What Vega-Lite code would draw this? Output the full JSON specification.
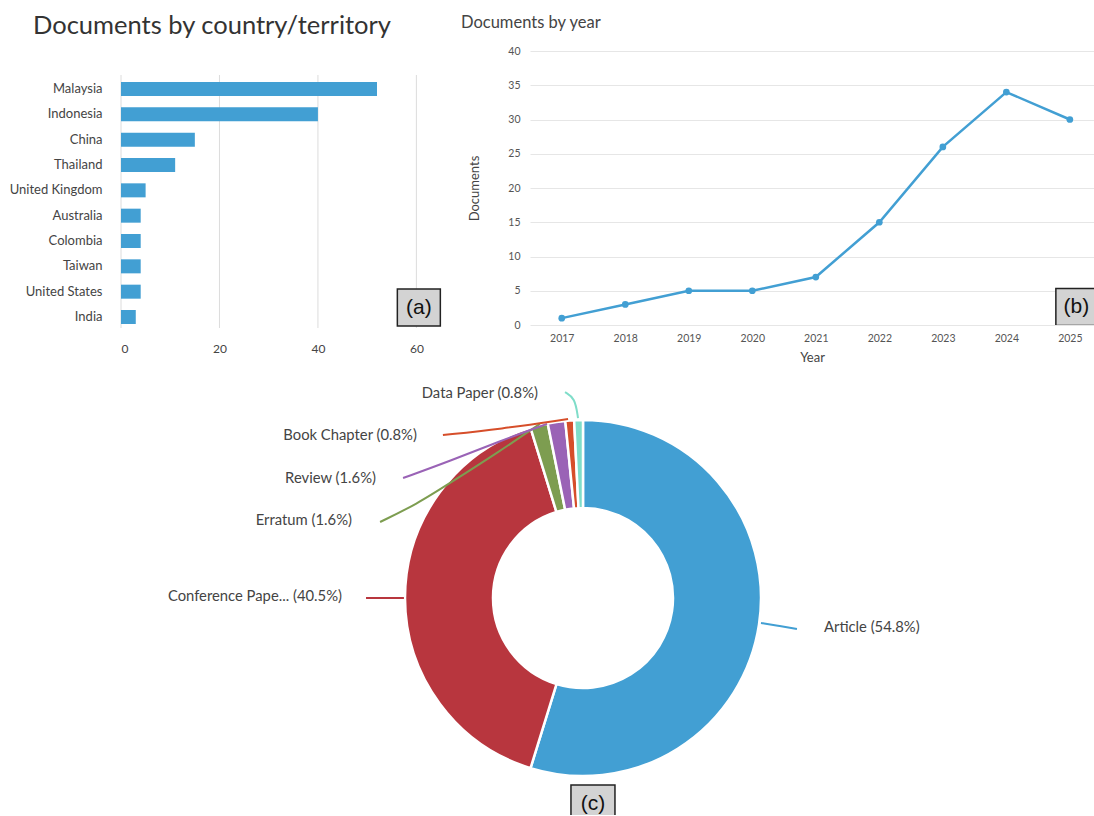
{
  "$schema": "https://vega.github.io/schema/vega-lite/v6.json",
  "padding": {"left": 9, "top": 14, "right": 0, "bottom": 0},
  "background": "white",
  "config": {
    "view": {"stroke": null},
    "font": "Lato",
    "axis": {"labelFont": "Lato", "titleFont": "Lato"},
    "title": {"font": "Lato"}
  },
  "datasets": {
    "countries": [
      {"country": "Malaysia", "documents": 52},
      {"country": "Indonesia", "documents": 40},
      {"country": "China", "documents": 15},
      {"country": "Thailand", "documents": 11},
      {"country": "United Kingdom", "documents": 5},
      {"country": "Australia", "documents": 4},
      {"country": "Colombia", "documents": 4},
      {"country": "Taiwan", "documents": 4},
      {"country": "United States", "documents": 4},
      {"country": "India", "documents": 3}
    ],
    "gridx": [{"g": 0}, {"g": 20}, {"g": 40}, {"g": 60}],
    "years": [
      {"year": 2017, "documents": 1},
      {"year": 2018, "documents": 3},
      {"year": 2019, "documents": 5},
      {"year": 2020, "documents": 5},
      {"year": 2021, "documents": 7},
      {"year": 2022, "documents": 15},
      {"year": 2023, "documents": 26},
      {"year": 2024, "documents": 34},
      {"year": 2025, "documents": 30}
    ],
    "types": [
      {"type": "Article", "count": 69, "rank": 1},
      {"type": "Conference Paper", "count": 51, "rank": 2},
      {"type": "Erratum", "count": 2, "rank": 3},
      {"type": "Review", "count": 2, "rank": 4},
      {"type": "Book Chapter", "count": 1, "rank": 5},
      {"type": "Data Paper", "count": 1, "rank": 6}
    ],
    "labels": [
      {"type": "Article", "label": "Article (54.8%)", "lx": 1.354, "ly": -0.169},
      {"type": "Conference Paper", "label": "Conference Pape... (40.5%)", "lx": -1.354, "ly": 0.006},
      {"type": "Erratum", "label": "Erratum (1.6%)", "lx": -1.298, "ly": 0.433},
      {"type": "Review", "label": "Review (1.6%)", "lx": -1.163, "ly": 0.669},
      {"type": "Book Chapter", "label": "Book Chapter (0.8%)", "lx": -0.933, "ly": 0.91},
      {"type": "Data Paper", "label": "Data Paper (0.8%)", "lx": -0.253, "ly": 1.146}
    ],
    "leaders": [
      {"type": "Article", "i": 1, "lx": 1.0, "ly": -0.14},
      {"type": "Article", "i": 2, "lx": 1.107, "ly": -0.157},
      {"type": "Article", "i": 3, "lx": 1.202, "ly": -0.174},
      {"type": "Conference Paper", "i": 1, "lx": -1.219, "ly": 0.0},
      {"type": "Conference Paper", "i": 2, "lx": -1.006, "ly": 0.0},
      {"type": "Erratum", "i": 1, "lx": -1.14, "ly": 0.427},
      {"type": "Erratum", "i": 2, "lx": -0.933, "ly": 0.528},
      {"type": "Erratum", "i": 3, "lx": -0.747, "ly": 0.646},
      {"type": "Erratum", "i": 4, "lx": -0.466, "ly": 0.826},
      {"type": "Erratum", "i": 5, "lx": -0.242, "ly": 0.978},
      {"type": "Review", "i": 1, "lx": -1.011, "ly": 0.674},
      {"type": "Review", "i": 2, "lx": -0.747, "ly": 0.77},
      {"type": "Review", "i": 3, "lx": -0.466, "ly": 0.882},
      {"type": "Review", "i": 4, "lx": -0.202, "ly": 0.978},
      {"type": "Book Chapter", "i": 1, "lx": -0.787, "ly": 0.916},
      {"type": "Book Chapter", "i": 2, "lx": -0.466, "ly": 0.949},
      {"type": "Book Chapter", "i": 3, "lx": -0.084, "ly": 1.006},
      {"type": "Data Paper", "i": 1, "lx": -0.101, "ly": 1.157},
      {"type": "Data Paper", "i": 2, "lx": -0.045, "ly": 1.124},
      {"type": "Data Paper", "i": 3, "lx": -0.028, "ly": 1.011}
    ]
  },
  "spacing": 5,
  "vconcat": [
    {
      "spacing": 17,
      "hconcat": [
        {
          "width": 320,
          "height": 280,
          "title": {"text": "Documents by country/territory", "anchor": "start", "fontSize": 25.5, "fontWeight": "normal", "color": "#333333", "dx": 24, "offset": 11.5},
          "layer": [
            {
              "data": {"name": "gridx"},
              "mark": {"type": "rule", "color": "#dcdcdc", "strokeWidth": 1, "yOffset": -14, "y2Offset": 11},
              "encoding": {
                "x": {"field": "g", "type": "quantitative", "scale": {"domain": [0, 65], "nice": false}},
                "y": {"datum": "Malaysia", "type": "nominal"},
                "y2": {"datum": "India"}
              }
            },
            {
              "data": {"name": "countries"},
              "mark": {"type": "bar", "color": "#429fd3"},
              "encoding": {
                "y": {"field": "country", "type": "nominal", "sort": null,
                  "scale": {"domain": ["Malaysia", "Indonesia", "China", "Thailand", "United Kingdom", "Australia", "Colombia", "Taiwan", "United States", "India"], "paddingInner": 0.447, "paddingOuter": 0.75, "align": 0.816},
                  "axis": {"title": null, "domain": false, "ticks": false, "grid": false, "labelPadding": 19, "labelFontSize": 13, "labelColor": "#444444", "minExtent": 112, "maxExtent": 112}},
                "x": {"field": "documents", "type": "quantitative",
                  "scale": {"domain": [0, 65], "nice": false},
                  "axis": {"title": null, "values": [0, 20, 40, 60], "domain": false, "ticks": false, "grid": false, "labelPadding": 12, "labelFontSize": 12, "labelColor": "#444444"}}
              }
            },
            {
              "data": {"values": [{}]},
              "mark": {"type": "point", "shape": "M-1.162,-1H1.162V1H-1.162Z", "size": 1369, "filled": true, "fill": "#d3d3d3", "stroke": "#222222", "strokeWidth": 1.5, "opacity": 1, "yOffset": -9.5},
              "encoding": {"x": {"datum": 60.5}, "y": {"datum": "India"}}
            },
            {
              "data": {"values": [{}]},
              "mark": {"type": "text", "text": "(a)", "fontSize": 21, "font": "Liberation Sans", "color": "#111111", "yOffset": -9.5, "align": "center", "baseline": "middle"},
              "encoding": {"x": {"datum": 60.5}, "y": {"datum": "India"}}
            }
          ]
        },
        {
          "width": 564,
          "height": 274,
          "title": {"text": "Documents by year", "anchor": "start", "fontSize": 16.5, "fontWeight": "normal", "color": "#444444", "dx": -7, "offset": 15},
          "layer": [
            {
              "data": {"name": "years"},
              "mark": {"type": "line", "color": "#429fd3", "strokeWidth": 2.5, "point": {"filled": true, "size": 45, "color": "#429fd3"}},
              "encoding": {
                "x": {"field": "year", "type": "quantitative",
                  "scale": {"domain": [2016.5, 2025.38], "nice": false, "zero": false},
                  "axis": {"title": "Year", "values": [2017, 2018, 2019, 2020, 2021, 2022, 2023, 2024, 2025], "format": "d", "grid": false, "domain": false, "ticks": false, "labelFontSize": 10.5, "labelColor": "#555555", "labelPadding": 8, "titleFontSize": 13, "titleFontWeight": "normal", "titleColor": "#444444", "titlePadding": 8}},
                "y": {"field": "documents", "type": "quantitative",
                  "scale": {"domain": [0, 40], "nice": false},
                  "axis": {"title": "Documents", "values": [0, 5, 10, 15, 20, 25, 30, 35, 40], "labelOverlap": false, "domain": false, "ticks": false, "grid": true, "gridColor": "#e6e6e6", "labelFontSize": 10.5, "labelColor": "#555555", "labelPadding": 10, "titleFontSize": 13, "titleFontWeight": "normal", "titleColor": "#444444", "titlePadding": 27, "minExtent": 22, "maxExtent": 22}}
              }
            },
            {
              "data": {"values": [{}]},
              "mark": {"type": "point", "shape": "M-1.162,-1H1.162V1H-1.162Z", "size": 1369, "filled": true, "fill": "#d3d3d3", "stroke": "#222222", "strokeWidth": 1.5, "opacity": 1, "clip": true},
              "encoding": {
                "x": {"datum": 2025.118, "type": "quantitative", "axis": {"title": "Year", "values": [2017, 2018, 2019, 2020, 2021, 2022, 2023, 2024, 2025], "format": "d", "grid": false, "domain": false, "ticks": false, "labelFontSize": 10.5, "labelColor": "#555555", "labelPadding": 8, "titleFontSize": 13, "titleFontWeight": "normal", "titleColor": "#444444", "titlePadding": 8}},
                "y": {"datum": 2.63, "type": "quantitative", "axis": {"title": "Documents", "values": [0, 5, 10, 15, 20, 25, 30, 35, 40], "labelOverlap": false, "domain": false, "ticks": false, "grid": true, "gridColor": "#e6e6e6", "labelFontSize": 10.5, "labelColor": "#555555", "labelPadding": 10, "titleFontSize": 13, "titleFontWeight": "normal", "titleColor": "#444444", "titlePadding": 27, "minExtent": 22, "maxExtent": 22}}
              }
            },
            {
              "data": {"values": [{}]},
              "mark": {"type": "text", "text": "(b)", "fontSize": 21, "font": "Liberation Sans", "color": "#111111", "align": "center", "baseline": "middle", "xOffset": -1},
              "encoding": {
                "x": {"datum": 2025.118, "type": "quantitative", "axis": {"title": "Year", "values": [2017, 2018, 2019, 2020, 2021, 2022, 2023, 2024, 2025], "format": "d", "grid": false, "domain": false, "ticks": false, "labelFontSize": 10.5, "labelColor": "#555555", "labelPadding": 8, "titleFontSize": 13, "titleFontWeight": "normal", "titleColor": "#444444", "titlePadding": 8}},
                "y": {"datum": 2.63, "type": "quantitative", "axis": {"title": "Documents", "values": [0, 5, 10, 15, 20, 25, 30, 35, 40], "labelOverlap": false, "domain": false, "ticks": false, "grid": true, "gridColor": "#e6e6e6", "labelFontSize": 10.5, "labelColor": "#555555", "labelPadding": 10, "titleFontSize": 13, "titleFontWeight": "normal", "titleColor": "#444444", "titlePadding": 27, "minExtent": 22, "maxExtent": 22}}
              }
            }
          ]
        }
      ]
    },
    {
      "width": 973,
      "height": 445,
      "layer": [
        {
          "data": {"name": "types"},
          "mark": {"type": "arc", "outerRadius": 178, "innerRadius": 90, "stroke": "white", "strokeWidth": 2.5},
          "encoding": {
            "theta": {"field": "count", "type": "quantitative", "stack": true},
            "order": {"field": "rank", "type": "quantitative"},
            "color": {"field": "type", "type": "nominal", "legend": null,
              "scale": {"domain": ["Article", "Conference Paper", "Erratum", "Review", "Book Chapter", "Data Paper"],
                "range": ["#429fd3", "#b8363e", "#7d9d50", "#9a63b6", "#d64e2a", "#7fddc9"]}},
            "x": {"datum": 0, "type": "quantitative", "scale": {"domain": [-2.5955, 2.8708], "nice": false, "zero": false}, "axis": null},
            "y": {"datum": 0, "type": "quantitative", "scale": {"domain": [-1.219, 1.281], "nice": false, "zero": false}, "axis": null}
          }
        },
        {
          "data": {"name": "leaders"},
          "mark": {"type": "line", "strokeWidth": 2, "interpolate": "basis"},
          "encoding": {
            "x": {"field": "lx", "type": "quantitative", "scale": {"domain": [-2.5955, 2.8708], "nice": false, "zero": false}, "axis": null},
            "y": {"field": "ly", "type": "quantitative", "scale": {"domain": [-1.219, 1.281], "nice": false, "zero": false}, "axis": null},
            "color": {"field": "type", "type": "nominal", "legend": null},
            "detail": {"field": "type"},
            "order": {"field": "i", "type": "quantitative"}
          }
        },
        {
          "data": {"name": "labels"},
          "transform": [{"filter": "datum.type !== 'Article'"}],
          "mark": {"type": "text", "align": "right", "baseline": "middle", "fontSize": 14.8, "color": "#444444"},
          "encoding": {
            "x": {"field": "lx", "type": "quantitative", "axis": null},
            "y": {"field": "ly", "type": "quantitative", "axis": null},
            "text": {"field": "label"}
          }
        },
        {
          "data": {"name": "labels"},
          "transform": [{"filter": "datum.type === 'Article'"}],
          "mark": {"type": "text", "align": "left", "baseline": "middle", "fontSize": 14.8, "color": "#444444"},
          "encoding": {
            "x": {"field": "lx", "type": "quantitative", "axis": null},
            "y": {"field": "ly", "type": "quantitative", "axis": null},
            "text": {"field": "label"}
          }
        },
        {
          "data": {"values": [{}]},
          "mark": {"type": "point", "shape": "M-1.158,-1H1.158V1H-1.158Z", "size": 1444, "filled": true, "fill": "#d3d3d3", "stroke": "#222222", "strokeWidth": 1.5, "opacity": 1, "clip": true},
          "encoding": {"x": {"datum": 0.056, "axis": null}, "y": {"datum": -1.157, "axis": null}}
        },
        {
          "data": {"values": [{}]},
          "mark": {"type": "text", "text": "(c)", "fontSize": 21, "font": "Liberation Sans", "color": "#111111", "align": "center", "baseline": "middle"},
          "encoding": {"x": {"datum": 0.056, "axis": null}, "y": {"datum": -1.157, "axis": null}}
        }
      ]
    }
  ]
}
